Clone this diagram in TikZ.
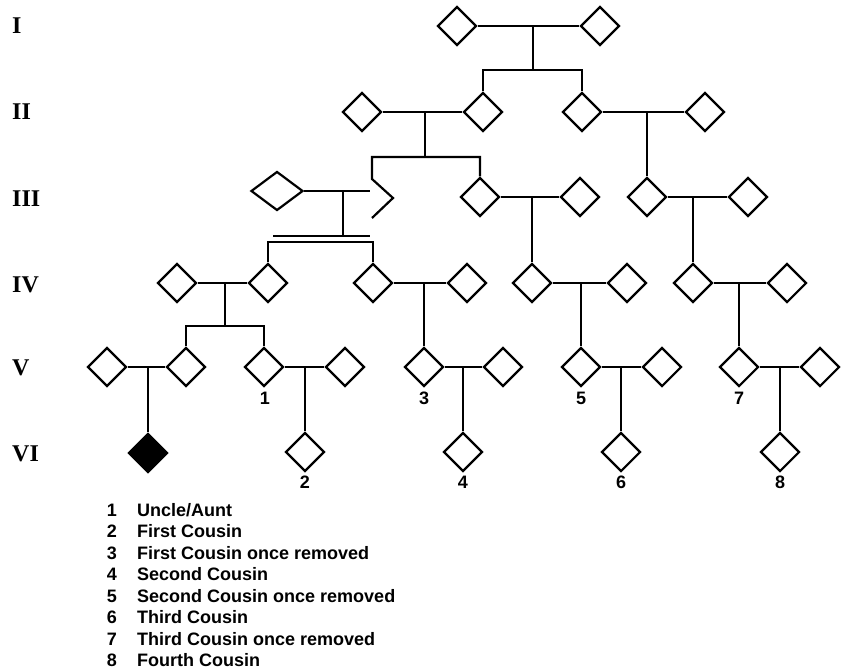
\documentclass[tikz,border=0pt]{standalone}
\usepackage{fontspec}
\setmainfont{Liberation Serif}
\newfontfamily\hv{Liberation Sans}
\usetikzlibrary{shapes.geometric}
\begin{document}
\begin{tikzpicture}[x=1pt,y=-1pt,
 ind/.style={draw,diamond,line width=2.2pt,minimum width=39pt,minimum height=39pt,inner sep=0pt,aspect=1},
 aff/.style={ind,fill=black},
 ln/.style={line width=2.2pt},
 gen/.style={anchor=west,inner sep=0pt,font=\fontsize{24}{24}\selectfont\bfseries},
 num/.style={anchor=base,inner sep=0pt,font=\hv\fontsize{18}{18}\selectfont\bfseries},
 leg/.style={anchor=base west,inner sep=0pt,font=\hv\fontsize{18}{18}\selectfont\bfseries}]
\useasboundingbox (0,0) rectangle (846,669);

% generation labels
\node[gen] (rI) at (12,26) {I};
\node[gen] (rII) at (12,112) {II};
\node[gen] (rIII) at (12,199) {III};
\node[gen] (rIV) at (12,285) {IV};
\node[gen] (rV) at (12,368) {V};
\node[gen] (rVI) at (12,454) {VI};

% Generation I
\node[ind] (g1a) at (457,26) {};
\node[ind] (g1b) at (600,26) {};
% Generation II
\node[ind] (g2a) at (362,112) {};
\node[ind] (g2b) at (483,112) {};
\node[ind] (g2c) at (582,112) {};
\node[ind] (g2d) at (705,112) {};
% Generation III
\node[ind,minimum width=52pt] (g3a) at (277,191) {};
\node[ind] (g3c) at (480,197) {};
\node[ind] (g3d) at (580,197) {};
\node[ind] (g3e) at (647,197) {};
\node[ind] (g3f) at (748,197) {};
% Generation IV
\node[ind] (g4a) at (177,283) {};
\node[ind] (g4b) at (268,283) {};
\node[ind] (g4c) at (373,283) {};
\node[ind] (g4d) at (467,283) {};
\node[ind] (g4e) at (532,283) {};
\node[ind] (g4f) at (627,283) {};
\node[ind] (g4g) at (693,283) {};
\node[ind] (g4h) at (787,283) {};
% Generation V
\node[ind] (g5a) at (107,367) {};
\node[ind] (g5b) at (186,367) {};
\node[ind] (g5c) at (264,367) {};
\node[ind] (g5d) at (345,367) {};
\node[ind] (g5e) at (424,367) {};
\node[ind] (g5f) at (503,367) {};
\node[ind] (g5g) at (581,367) {};
\node[ind] (g5h) at (662,367) {};
\node[ind] (g5i) at (739,367) {};
\node[ind] (g5j) at (820,367) {};
% Generation VI
\node[aff] (g6a) at (148,453) {};
\node[ind] (g6b) at (305,452) {};
\node[ind] (g6c) at (463,452) {};
\node[ind] (g6d) at (621,452) {};
\node[ind] (g6e) at (780,452) {};

% coordinates
\coordinate (m1) at (533,26);  \coordinate (s1) at (533,70);
\coordinate (m2a) at (425,112); \coordinate (s2a) at (425,157);
\coordinate (m2c) at (647,112);
\coordinate (pt) at (372,179);
\coordinate (pe) at (370,191);
\coordinate (m3a) at (343,191); \coordinate (d1) at (343,236);
\coordinate (d1l) at (273,236); \coordinate (d1r) at (370,236);
\coordinate (d2) at (320,242);
\coordinate (m3c) at (532,197);
\coordinate (m3e) at (693,197);
\coordinate (m4a) at (225,283); \coordinate (s4a) at (225,326);
\coordinate (m4c) at (424,283);
\coordinate (m4e) at (581,283);
\coordinate (m4g) at (739,283);
\coordinate (m5a) at (148,367);
\coordinate (m5c) at (305,367);
\coordinate (m5e) at (463,367);
\coordinate (m5g) at (621,367);
\coordinate (m5i) at (780,367);

\begin{scope}[ln]
% I
\draw (g1a) -- (g1b);
\draw (m1) -- (s1);
\draw (g2b) |- (s1) -| (g2c);
% II
\draw (g2a) -- (g2b);
\draw (m2a) -- (s2a);
\draw[line join=miter] (g3c) |- (s2a) -| (pt) -- ++(21,19) -- ++(-21,20);
\draw (g2c) -- (g2d);
\draw (m2c) -- (g3e);
% III
\draw (g3a) -- (pe);
\draw (m3a) -- (d1);
\draw (d1l) -- (d1r);
\draw (g4b) |- (d2) -| (g4c);
\draw (g3c) -- (g3d);
\draw (m3c) -- (g4e);
\draw (g3e) -- (g3f);
\draw (m3e) -- (g4g);
% IV
\draw (g4a) -- (g4b);
\draw (m4a) -- (s4a);
\draw (g5b) |- (s4a) -| (g5c);
\draw (g4c) -- (g4d);
\draw (m4c) -- (g5e);
\draw (g4e) -- (g4f);
\draw (m4e) -- (g5g);
\draw (g4g) -- (g4h);
\draw (m4g) -- (g5i);
% V
\draw (g5a) -- (g5b);
\draw (m5a) -- (g6a);
\draw (g5c) -- (g5d);
\draw (m5c) -- (g6b);
\draw (g5e) -- (g5f);
\draw (m5e) -- (g6c);
\draw (g5g) -- (g5h);
\draw (m5g) -- (g6d);
\draw (g5i) -- (g5j);
\draw (m5i) -- (g6e);
\end{scope}

% relationship numbers
\node[num] (n1) at (265,404) {1};
\node[num] (n3) at (424,404) {3};
\node[num] (n5) at (581,404) {5};
\node[num] (n7) at (739,404) {7};
\node[num] (n2) at (305,488) {2};
\node[num] (n4) at (463,488) {4};
\node[num] (n6) at (621,488) {6};
\node[num] (n8) at (780,488) {8};

% legend
\foreach \k/\t in {1/Uncle\slash Aunt,2/First Cousin,3/First Cousin once removed,4/Second Cousin,5/Second Cousin once removed,6/Third Cousin,7/Third Cousin once removed,8/Fourth Cousin}{
  \node[num] (ln\k) at (112,{516+21.5*(\k-1)}) {\k};
  \node[leg] (lt\k) at (137,{516+21.5*(\k-1)}) {\t};
}
\end{tikzpicture}
\end{document}
